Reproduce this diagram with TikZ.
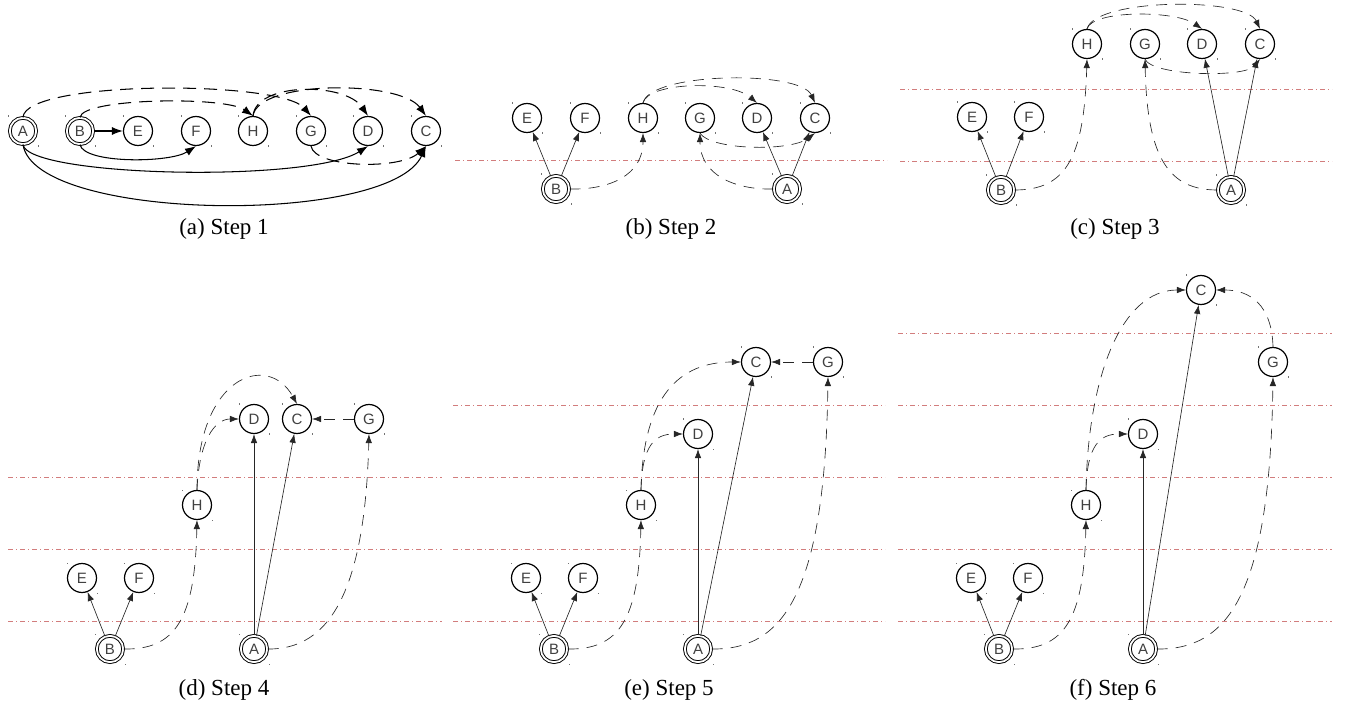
\documentclass[tikz,border=0pt]{standalone}
\usepackage{fontspec}
\setmainfont{Liberation Serif}
\newfontfamily\labelfont{Liberation Sans}
\usetikzlibrary{arrows.meta}

% vertex with the two small corner marks of its bounding box
\newcommand\vtx[5][state]{%
  \node[#1] (#2) at (#3,#4) {#5};
  \fill[cornermark] (#3-15.5,#4-15.5) rectangle ++(1.1,1.1);
  \fill[cornermark] (#3+14.5,#4+14.5) rectangle ++(1.1,1.1);}

\begin{document}
\begin{tikzpicture}[x=1pt,y=-1pt,
  state/.style={circle, draw=black, line width=1.2pt, minimum size=29pt,
    inner sep=0pt, text=black!75, font=\labelfont\fontsize{15}{15}\selectfont},
  start/.style={state, double, double distance=1.8pt, line width=0.95pt,
    minimum size=26.3pt},
  cornermark/.style={black!55},
  caption/.style={anchor=base, font=\fontsize{23}{24}\selectfont},
  sepline/.style={draw={rgb,255:red,210;green,125;blue,125}, line width=0.75pt,
    dash pattern=on 5pt off 3pt on 1pt off 3pt},
  thinedge/.style={draw=black!85, line width=0.65pt, -{Latex[length=9pt,width=6.5pt]}},
  thindash/.style={thinedge, dash pattern=on 11pt off 8pt},
  thickedge/.style={draw=black, line width=1.05pt, -{Latex[length=11pt,width=8pt]}},
  thickdash/.style={thickedge, dash pattern=on 13pt off 8pt}]
\useasboundingbox (0,0) rectangle (1345,711);

% ---------------- (a) Step 1 ----------------
\vtx[start]{aA}{23}{131}{A}
\vtx[start]{aB}{80}{131}{B}
\vtx{aE}{138}{131}{E}
\vtx{aF}{196}{131}{F}
\vtx{aH}{253}{131}{H}
\vtx{aG}{311}{131}{G}
\vtx{aD}{368}{131}{D}
\vtx{aC}{426}{131}{C}
\draw[thickedge] (aB) -- (aE);
\draw[thickedge] (aB.south) .. controls (84,164) and (170,163) .. (aF.south);
\draw[thickedge] (aA.south) .. controls (28,177) and (310,183) .. (aD.south);
\draw[thickedge] (aA.south) .. controls (35,222) and (390,226) .. (aC.south);
\draw[thickdash] (aA.north) .. controls (25,80) and (280,80) .. (aG.north);
\draw[thickdash] (aB.north) .. controls (82,98) and (225,96) .. (aH.north);
\draw[thickdash] (aH.north) .. controls (256,82) and (345,82) .. (aD.north);
\draw[thickdash] (aH.north) .. controls (258,80) and (400,80) .. (aC.north);
\draw[thickdash] (aG.south) .. controls (315,168) and (400,170) .. (aC.south);
\node[caption] (capa) at (224,235) {(a) Step 1};

% ---------------- (b) Step 2 ----------------
\draw[sepline] (455,160) -- (887,160);
\vtx{bE}{527}{118}{E}
\vtx{bF}{585}{118}{F}
\vtx{bH}{643}{118}{H}
\vtx{bG}{700}{118}{G}
\vtx{bD}{757}{118}{D}
\vtx{bC}{815}{118}{C}
\vtx[start]{bB}{556}{189}{B}
\vtx[start]{bA}{787}{189}{A}
\draw[thinedge] (bB) -- (bE);
\draw[thinedge] (bB) -- (bF);
\draw[thinedge] (bA) -- (bD);
\draw[thinedge] (bA) -- (bC);
\draw[thindash] (bB.east) .. controls (610,190) and (643,175) .. (bH.south);
\draw[thindash] (bA.west) .. controls (735,190) and (700,175) .. (bG.south);
\draw[thindash] (bG.south) .. controls (710,150) and (790,152) .. (bC.south);
\draw[thindash] (bH.north) .. controls (648,82) and (730,80) .. (bD.north);
\draw[thindash] (bH.north) .. controls (650,72) and (800,70) .. (bC.north);
\node[caption] (capb) at (671,235) {(b) Step 2};

% ---------------- (c) Step 3 ----------------
\draw[sepline] (900,89) -- (1332,89);
\draw[sepline] (900,161) -- (1332,161);
\vtx{cH}{1087}{44}{H}
\vtx{cG}{1145}{44}{G}
\vtx{cD}{1202}{44}{D}
\vtx{cC}{1260}{44}{C}
\vtx{cE}{972}{117}{E}
\vtx{cF}{1029}{117}{F}
\vtx[start]{cB}{1001}{190}{B}
\vtx[start]{cA}{1231}{190}{A}
\draw[thinedge] (cB) -- (cE);
\draw[thinedge] (cB) -- (cF);
\draw[thinedge] (cA) -- (cD);
\draw[thinedge] (cA) -- (cC);
\draw[thindash] (cB.east) .. controls (1065,190) and (1084,160) .. (cH.south);
\draw[thindash] (cA.west) .. controls (1170,190) and (1147,160) .. (cG.south);
\draw[thindash] (cG.south) .. controls (1152,76) and (1245,78) .. (cC.south);
\draw[thindash] (cH.north) .. controls (1092,10) and (1175,10) .. (cD.north);
\draw[thindash] (cH.north) .. controls (1095,-2) and (1245,-3) .. (cC.north);
\node[caption] (capc) at (1115,235) {(c) Step 3};

% ---------------- (d) Step 4 ----------------
\draw[sepline] (8,477) -- (442,477);
\draw[sepline] (8,549) -- (442,549);
\draw[sepline] (8,621) -- (442,621);
\vtx{dD}{254}{419}{D}
\vtx{dC}{297}{419}{C}
\vtx{dG}{369}{419}{G}
\vtx{dH}{197}{505}{H}
\vtx{dE}{82}{578}{E}
\vtx{dF}{139}{578}{F}
\vtx[start]{dB}{110}{649}{B}
\vtx[start]{dA}{254}{649}{A}
\draw[thinedge] (dB) -- (dE);
\draw[thinedge] (dB) -- (dF);
\draw[thinedge] (dA) -- (dD);
\draw[thinedge] (dA) -- (dC);
\draw[thindash] (dB.east) .. controls (175,650) and (195,620) .. (dH.south);
\draw[thindash] (dA.east) .. controls (330,650) and (365,590) .. (dG.south);
\draw[thindash] (dH.north) .. controls (199,440) and (215,419) .. (dD.west);
\draw[thindash] (dH.north) .. controls (197,375) and (268,352) .. (dC.north);
\draw[thindash] (dG.west) -- (dC.east);
\node[caption] (capd) at (224,695) {(d) Step 4};

% ---------------- (e) Step 5 ----------------
\draw[sepline] (453,405) -- (885,405);
\draw[sepline] (453,477) -- (885,477);
\draw[sepline] (453,549) -- (885,549);
\draw[sepline] (453,621) -- (885,621);
\vtx{eC}{756}{362}{C}
\vtx{eG}{828}{362}{G}
\vtx{eD}{698}{434}{D}
\vtx{eH}{641}{505}{H}
\vtx{eE}{526}{578}{E}
\vtx{eF}{583}{578}{F}
\vtx[start]{eB}{554}{649}{B}
\vtx[start]{eA}{698}{649}{A}
\draw[thinedge] (eB) -- (eE);
\draw[thinedge] (eB) -- (eF);
\draw[thinedge] (eA) -- (eD);
\draw[thinedge] (eA) -- (eC);
\draw[thindash] (eB.east) .. controls (619,650) and (639,620) .. (eH.south);
\draw[thindash] (eA.east) .. controls (780,650) and (825,600) .. (eG.south);
\draw[thindash] (eH.north) .. controls (642,445) and (655,434) .. (eD.west);
\draw[thindash] (eH.north) .. controls (643,395) and (680,362) .. (eC.west);
\draw[thindash] (eG.west) -- (eC.east);
\node[caption] (cape) at (669,695) {(e) Step 5};

% ---------------- (f) Step 6 ----------------
\draw[sepline] (898,333) -- (1332,333);
\draw[sepline] (898,405) -- (1332,405);
\draw[sepline] (898,477) -- (1332,477);
\draw[sepline] (898,549) -- (1332,549);
\draw[sepline] (898,621) -- (1332,621);
\vtx{fC}{1201}{290}{C}
\vtx{fG}{1273}{362}{G}
\vtx{fD}{1143}{434}{D}
\vtx{fH}{1086}{505}{H}
\vtx{fE}{971}{578}{E}
\vtx{fF}{1028}{578}{F}
\vtx[start]{fB}{999}{649}{B}
\vtx[start]{fA}{1143}{649}{A}
\draw[thinedge] (fB) -- (fE);
\draw[thinedge] (fB) -- (fF);
\draw[thinedge] (fA) -- (fD);
\draw[thinedge] (fA) -- (fC);
\draw[thindash] (fB.east) .. controls (1064,650) and (1084,620) .. (fH.south);
\draw[thindash] (fA.east) .. controls (1225,650) and (1270,600) .. (fG.south);
\draw[thindash] (fH.north) .. controls (1087,445) and (1100,434) .. (fD.west);
\draw[thindash] (fH.north) .. controls (1088,380) and (1120,290) .. (fC.west);
\draw[thindash] (fG.north) .. controls (1272,305) and (1250,290) .. (fC.east);
\node[caption] (capf) at (1113,695) {(f) Step 6};
\end{tikzpicture}
\end{document}
